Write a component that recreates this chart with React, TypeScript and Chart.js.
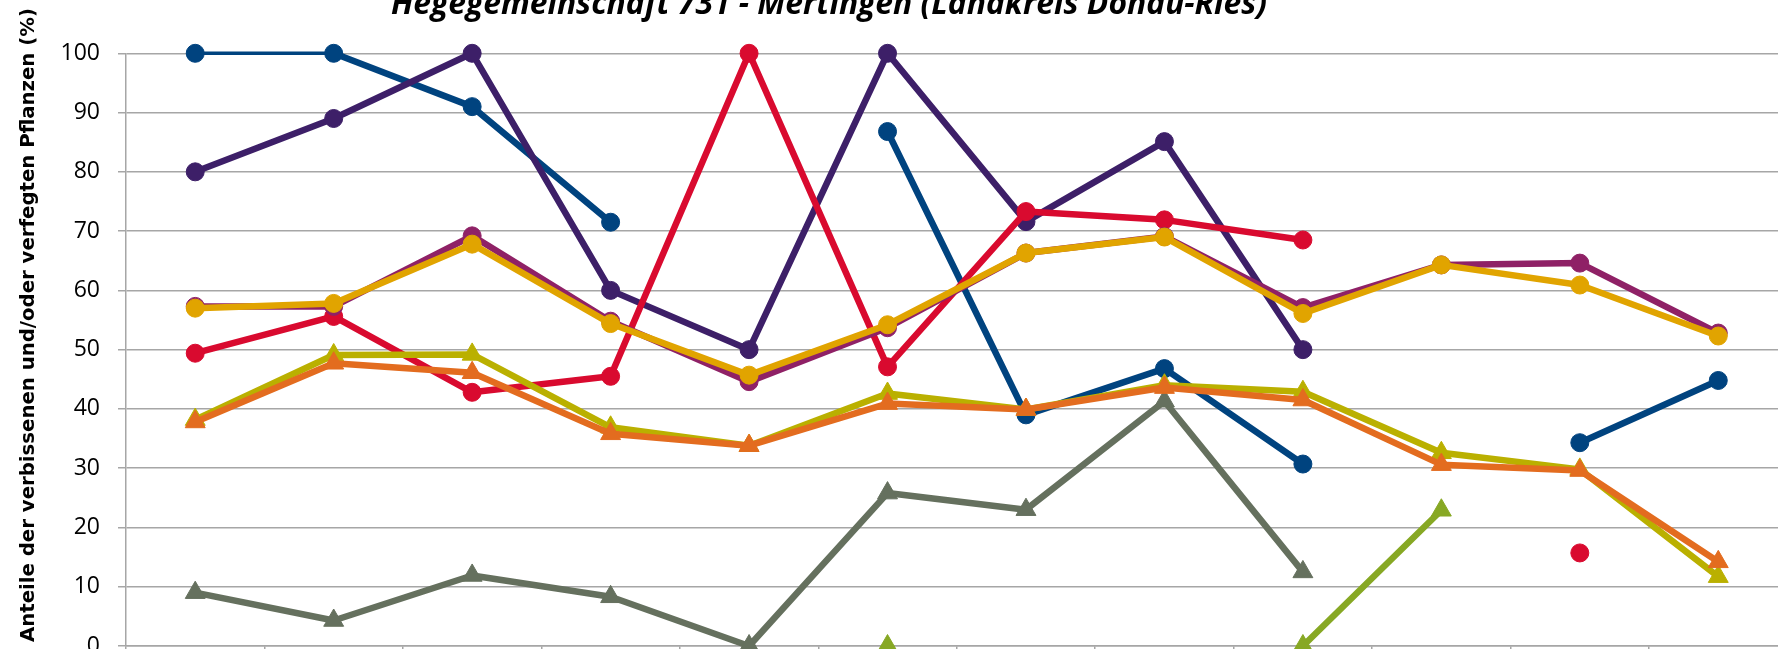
import React, { useEffect, useRef } from "react";
import { Chart, registerables } from "chart.js";

Chart.register(...registerables);

// ---- data ----
const categories = [
  "Kategorie 1", "Kategorie 2", "Kategorie 3", "Kategorie 4", "Kategorie 5", "Kategorie 6",
  "Kategorie 7", "Kategorie 8", "Kategorie 9", "Kategorie 10", "Kategorie 11", "Kategorie 12",
];

const titleText = "Hegegemeinschaft 731 - Mertingen (Landkreis Donau-Ries)";
const yAxisTitle = "Anteile der verbissenen und/oder verfegten Pflanzen (%)";
const yMin = 0;
const yMax = 100;
const yStep = 10;

const blueValues = [100, 100, 91, 71.5, null, 86.8, 39, 46.8, 30.7, null, 34.3, 44.8];
const purpleValues = [80, 89, 100, 60, 50, 100, 71.6, 85.1, 50, null, null, null];
const redValues = [49.4, 55.6, 42.8, 45.5, 100, 47.1, 73.3, 71.9, 68.5, null, 15.7, null];
const magentaValues = [57.3, 57.3, 69.2, 54.8, 44.6, 53.7, 66.3, 69.1, 57.1, 64.3, 64.6, 52.8];
const goldValues = [57.0, 57.8, 67.8, 54.4, 45.7, 54.2, 66.3, 69.0, 56.1, 64.3, 60.9, 52.3];
const grayValues = [9.0, 4.3, 11.9, 8.3, 0, 25.8, 23.0, 41.3, 12.5, null, null, null];
const limeValues = [null, null, null, null, null, 0, null, null, 0, 22.9, null, null];
const oliveValues = [38.2, 49.1, 49.2, 36.9, 33.8, 42.6, 39.9, 44.0, 42.9, 32.6, 29.8, 11.7];
const orangeValues = [37.8, 47.7, 46.1, 35.8, 33.8, 40.9, 39.9, 43.6, 41.5, 30.6, 29.6, 14.2];

const seriesNames = ["Reihe 1", "Reihe 2", "Reihe 3", "Reihe 4", "Reihe 5", "Reihe 6", "Reihe 7", "Reihe 8", "Reihe 9"];

// ---- layout (canvas is larger than the window; window shows a crop) ----
const CANVAS_W = 1800;
const CANVAS_H = 760;
const OFFSET_Y = 40;
const PLOT_TOP = OFFSET_Y + 53.3;
const PLOT_BOTTOM = OFFSET_Y + 646;
const PLOT_LEFT = 126;
const PLOT_RIGHT = 1791.6;

const GRID = "#a6a6a6";

const textPlugin = {
  id: "customTexts",
  afterDraw(chart: any) {
    const ctx = chart.ctx as CanvasRenderingContext2D;
    ctx.save();
    ctx.fillStyle = "#000";
    ctx.textAlign = "center";
    ctx.textBaseline = "alphabetic";
    ctx.font = 'italic bold 32px "Open Sans", sans-serif';
    ctx.fillText(titleText, 829, OFFSET_Y + 14, 876);
    ctx.translate(34, OFFSET_Y + 325);
    ctx.rotate(-Math.PI / 2);
    ctx.font = 'bold 20px "DejaVu Sans", sans-serif';
    ctx.fillText(yAxisTitle, 0, 0, 634);
    ctx.restore();
  },
};

type S = { name: string; data: (number | null)[]; color: string; style: string; thinFirst?: boolean };

export default function App() {
  const ref = useRef<HTMLCanvasElement | null>(null);

  useEffect(() => {
    if (!ref.current) return;
    // bottom -> top drawing order
    const series: S[] = [
      { name: seriesNames[0], data: blueValues, color: "#00437f", style: "circle", thinFirst: true },
      { name: seriesNames[1], data: purpleValues, color: "#3d1f68", style: "circle" },
      { name: seriesNames[2], data: redValues, color: "#d90a2f", style: "circle" },
      { name: seriesNames[3], data: magentaValues, color: "#8f2166", style: "circle" },
      { name: seriesNames[4], data: goldValues, color: "#e1a400", style: "circle" },
      { name: seriesNames[5], data: grayValues, color: "#65705e", style: "triangle" },
      { name: seriesNames[6], data: limeValues, color: "#87a824", style: "triangle" },
      { name: seriesNames[7], data: oliveValues, color: "#bab000", style: "triangle" },
      { name: seriesNames[8], data: orangeValues, color: "#e36c1f", style: "triangle" },
    ];
    const n = series.length;
    const datasets = series.map((s, i) => ({
      label: s.name,
      data: s.data,
      order: n - i,
      borderColor: s.color,
      backgroundColor: s.color,
      pointBackgroundColor: s.color,
      pointBorderColor: s.color,
      pointBorderWidth: 1,
      pointStyle: s.style,
      pointRadius: s.style === "circle" ? 9 : 11.5,
      borderWidth: 6.5,
      borderJoinStyle: "round" as const,
      borderCapStyle: "round" as const,
      tension: 0,
      spanGaps: false,
      clip: false as any,
      segment: s.thinFirst
        ? { borderWidth: (ctx: any) => (ctx.p0DataIndex === 0 ? 3.5 : 6.5) }
        : undefined,
    }));

    const chart = new Chart(ref.current, {
      type: "line",
      data: { labels: categories, datasets },
      plugins: [textPlugin],
      options: {
        animation: false,
        responsive: false,
        devicePixelRatio: 1,
        layout: {
          padding: { top: PLOT_TOP, left: 0, right: CANVAS_W - PLOT_RIGHT, bottom: 0 },
        },
        plugins: {
          legend: { display: false },
          title: { display: false },
          tooltip: { enabled: false },
        },
        scales: {
          x: {
            type: "category",
            offset: true,
            afterFit: (scale: any) => {
              scale.height = CANVAS_H - PLOT_BOTTOM;
            },
            grid: {
              display: true,
              drawOnChartArea: false,
              drawTicks: true,
              tickLength: 8,
              offset: true,
              color: GRID,
              lineWidth: 1.5,
            },
            border: { display: true, color: GRID, width: 1.5 },
            ticks: {
              color: "#000",
              font: { family: '"Open Sans", sans-serif', size: 22 },
              maxRotation: 0,
              autoSkip: false,
            },
          },
          y: {
            min: yMin,
            max: yMax,
            afterFit: (scale: any) => {
              scale.width = PLOT_LEFT;
            },
            grid: {
              display: true,
              drawOnChartArea: true,
              drawTicks: true,
              tickLength: 8,
              color: GRID,
              lineWidth: 1.5,
            },
            border: { display: true, color: GRID, width: 1.5 },
            ticks: {
              stepSize: yStep,
              padding: 18,
              color: "#000",
              font: { family: '"Open Sans", sans-serif', size: 23 },
            },
          },
        },
      },
    });
    return () => chart.destroy();
  }, []);

  return (
    <div
      style={{
        position: "fixed",
        left: 0,
        top: 0,
        width: 1778,
        height: 649,
        overflow: "hidden",
        background: "#fff",
      }}
    >
      <canvas
        ref={ref}
        width={CANVAS_W}
        height={CANVAS_H}
        style={{ position: "absolute", left: 0, top: -OFFSET_Y, width: CANVAS_W, height: CANVAS_H }}
      />
    </div>
  );
}
